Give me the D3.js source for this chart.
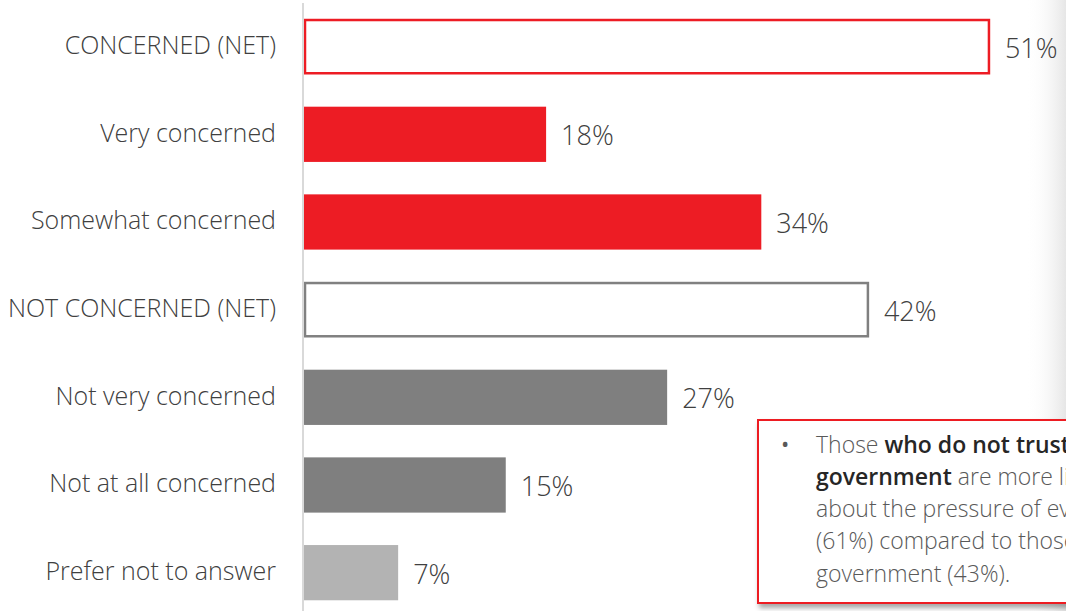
<!DOCTYPE html>
<html>
<head>
<meta charset="utf-8">
<script src="https://cdn.jsdelivr.net/npm/d3@7"></script>
<style>
  html, body { margin: 0; padding: 0; background: #fff; }
  svg { display: block; }
</style>
</head>
<body>
<script>
// Survey responses: level of concern
const categories = [
  "CONCERNED (NET)",
  "Very concerned",
  "Somewhat concerned",
  "NOT CONCERNED (NET)",
  "Not very concerned",
  "Not at all concerned",
  "Prefer not to answer"
];
const values = [51, 18, 34, 42, 27, 15, 7];
const barKinds = ["netRed", "red", "red", "netGrey", "grey", "grey", "light"];

const W = 1066, H = 611;
const FONT = "'Open Sans', sans-serif";

const svg = d3.select("body").append("svg")
  .attr("width", W).attr("height", H);

const defs = svg.append("defs");
const edge = defs.append("linearGradient").attr("id", "edgeFade")
  .attr("x1", 0).attr("x2", 1).attr("y1", 0).attr("y2", 0);
edge.append("stop").attr("offset", 0).attr("stop-color", "#fff").attr("stop-opacity", 0);
edge.append("stop").attr("offset", 1).attr("stop-color", "#e6e6e6").attr("stop-opacity", 1);

const shadow = defs.append("filter").attr("id", "boxShadow")
  .attr("x", "-10%").attr("y", "-10%").attr("width", "130%").attr("height", "130%");
shadow.append("feDropShadow").attr("dx", 2).attr("dy", 4)
  .attr("stdDeviation", 2.5).attr("flood-color", "#000").attr("flood-opacity", 0.35);

// slide edge shading on the right
svg.append("rect").attr("x", W - 40).attr("y", 0).attr("width", 40).attr("height", H)
  .attr("fill", "url(#edgeFade)");

const x = d3.scaleLinear().domain([0, 100]).range([304, 304 + 1345]);
const y = d3.scaleBand().domain(categories)
  .range([2.8, 616.5]).paddingInner(0.37).paddingOuter(0.185);

const style = {
  netRed:  { fill: "#fff", stroke: "#ed1c24" },
  red:     { fill: "#ed1c24", stroke: "none" },
  netGrey: { fill: "#fff", stroke: "#808080" },
  grey:    { fill: "#7f7f7f", stroke: "none" },
  light:   { fill: "#b3b3b3", stroke: "none" }
};

const rows = categories.map((c, i) => ({ cat: c, v: values[i], kind: barKinds[i] }));
const inset = d => (style[d.kind].stroke !== "none" ? 1 : 0);

svg.append("g").selectAll("rect").data(rows).join("rect")
  .attr("x", d => x(0) + inset(d))
  .attr("y", d => y(d.cat) + inset(d))
  .attr("width", d => x(d.v) - x(0) - 2 * inset(d))
  .attr("height", d => y.bandwidth() - 2 * inset(d))
  .attr("fill", d => style[d.kind].fill)
  .attr("stroke", d => style[d.kind].stroke)
  .attr("stroke-width", 2.5);

// category axis line
svg.append("line")
  .attr("x1", 303).attr("x2", 303).attr("y1", 3).attr("y2", H)
  .attr("stroke", "#d9d9d9").attr("stroke-width", 2);

// category labels
svg.append("g").selectAll("text").data(rows).join("text")
  .attr("x", 276)
  .attr("y", d => y(d.cat) + y.bandwidth() / 2 + 7.3)
  .attr("text-anchor", "end")
  .attr("font-family", FONT).attr("font-weight", 300)
  .attr("font-size", 25).attr("fill", "#404040")
  .text(d => d.cat);

// value labels
svg.append("g").selectAll("text").data(rows).join("text")
  .attr("x", d => x(d.v) + 15)
  .attr("y", d => y(d.cat) + y.bandwidth() / 2 + 11)
  .attr("font-family", FONT).attr("font-weight", 300)
  .attr("font-size", 27).attr("fill", "#404040")
  .text(d => d.v + "%");

// callout box
const box = svg.append("g");
box.append("rect")
  .attr("x", 758).attr("y", 420).attr("width", 400).attr("height", 183)
  .attr("fill", "#fff").attr("stroke", "#ed1c24").attr("stroke-width", 2)
  .attr("filter", "url(#boxShadow)");

const calloutLines = [
  [["Those ", false], ["who do not trust the", true]],
  [["government", true], [" are more likely to be concerned", false]],
  [["about the pressure of everyday costs", false]],
  [["(61%) compared to those who trust the", false]],
  [["government (43%).", false]]
];

box.append("text").attr("x", 781).attr("y", 452)
  .attr("font-family", FONT).attr("font-size", 22).attr("fill", "#595959").text("•");

const tl = box.append("g").attr("font-family", FONT).attr("font-size", 23);
calloutLines.forEach((line, i) => {
  const t = tl.append("text").attr("x", 816).attr("y", 452.7 + i * 32.2);
  line.forEach(([s, bold]) => {
    t.append("tspan").text(s)
      .attr("font-weight", bold ? 600 : 300)
      .attr("fill", bold ? "#262626" : "#595959");
  });
});
</script>
</body>
</html>
